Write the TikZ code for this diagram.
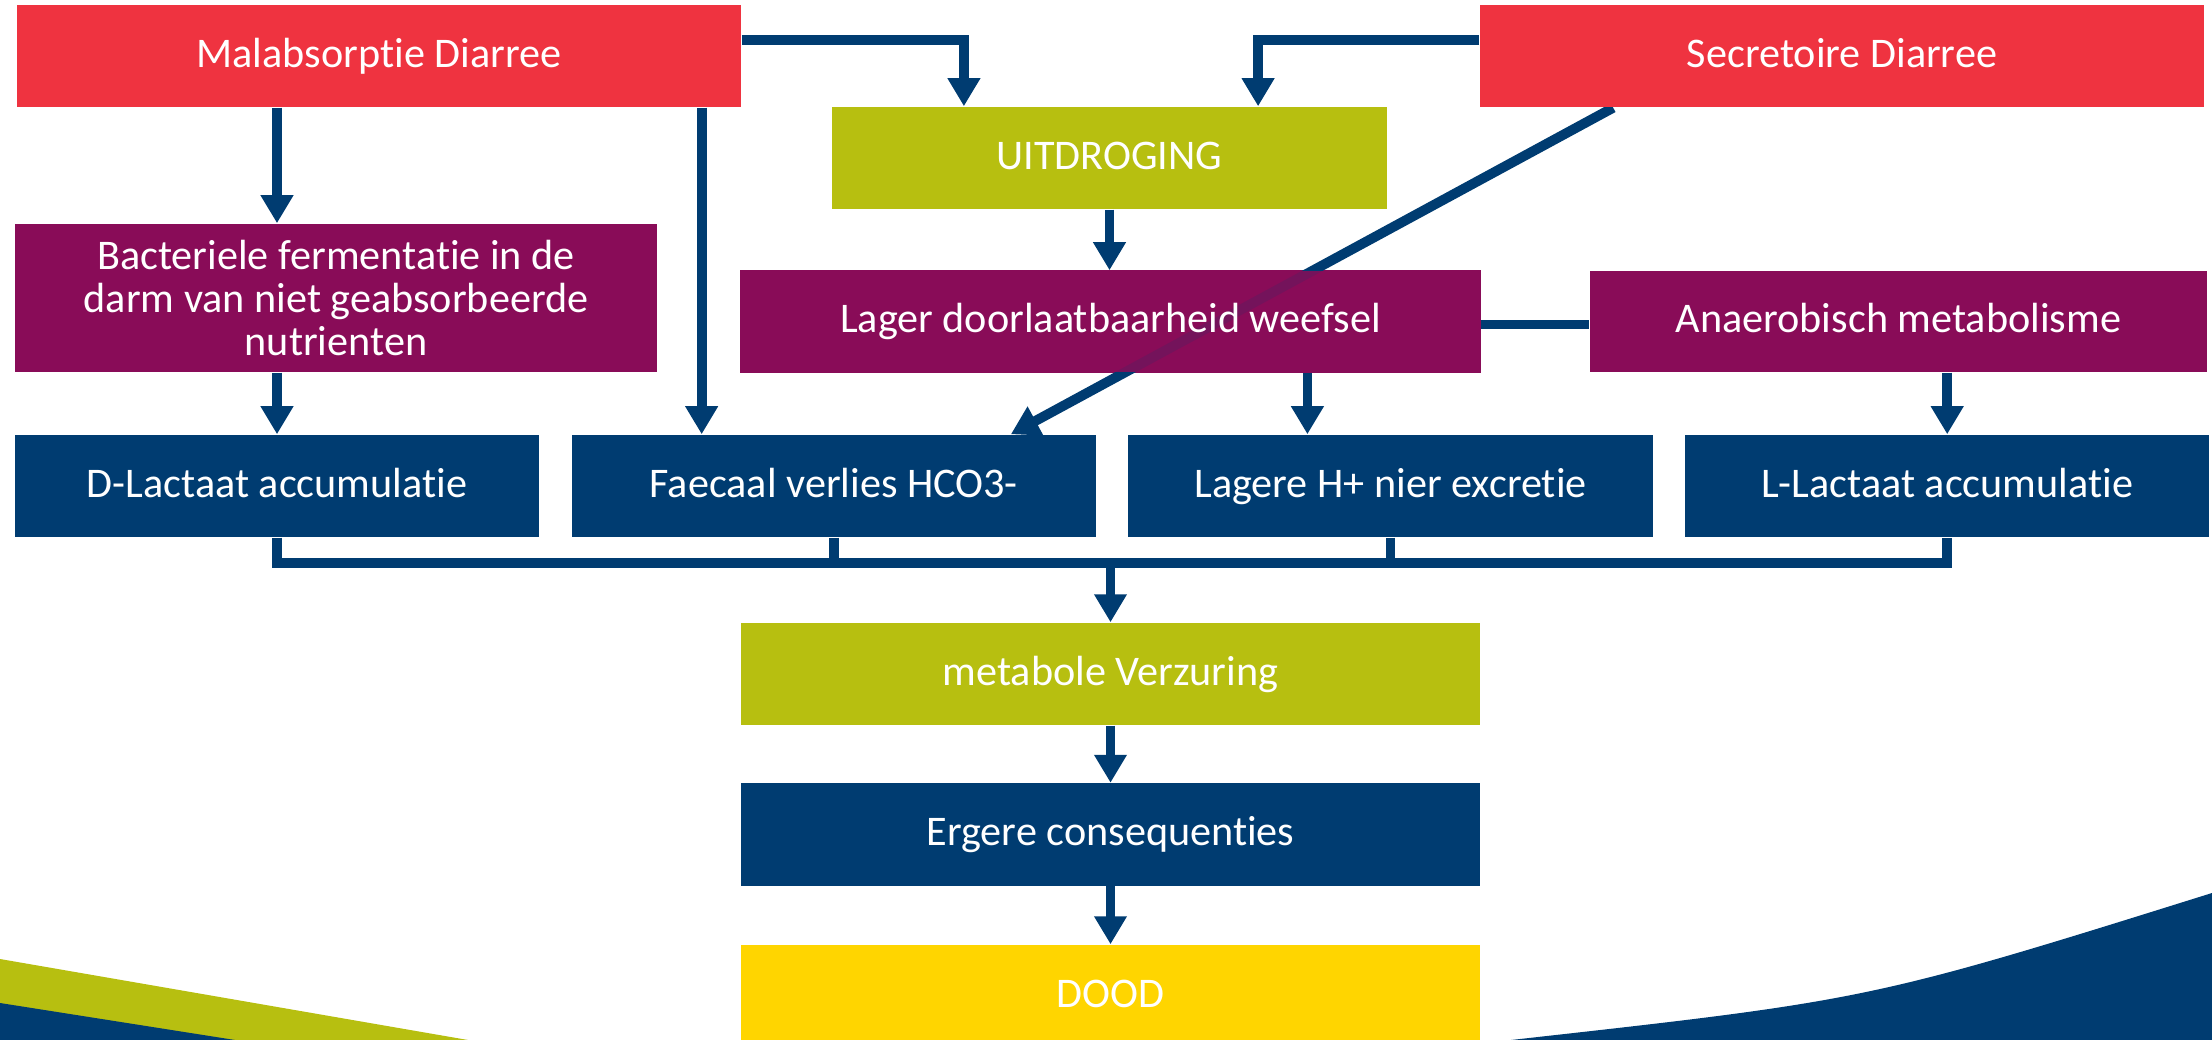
\documentclass[tikz,border=0pt]{standalone}
\usepackage{fontspec}
\setmainfont{Carlito}[Ligatures={NoCommon,NoContextual}]
\usepackage{xcolor}
\usetikzlibrary{shapes,arrows.meta,positioning,backgrounds}

\definecolor{rood}{HTML}{EF3340}
\definecolor{olijf}{HTML}{B7BF10}
\definecolor{paars}{HTML}{890C58}
\definecolor{marine}{HTML}{003C71}
\definecolor{geel}{HTML}{FFD500}

\begin{document}
\begin{tikzpicture}[x=0.01cm, y=-0.01cm, node distance=0.31cm, font=\fontsize{12}{12.3}\selectfont]
    % Stijlen
    \tikzstyle{blok}=[rectangle, inner sep=0pt, text=white, align=center, minimum height=1.02cm, text height=0.85em, text depth=0.2em]
    \tikzstyle{diarree}=[blok, fill=rood, minimum width=7.24cm]
    \tikzstyle{stap}=[blok, fill=olijf]
    \tikzstyle{oorzaak}=[blok, fill=paars, minimum height=1.01cm]
    \tikzstyle{gevolg}=[blok, fill=marine, minimum width=5.24cm]
    \tikzstyle{pijl}=[-{Triangle[width=3.1mm,length=2.8mm]}, line width=2.8pt, draw=marine]
    \tikzstyle{lijn}=[line width=2.8pt, draw=marine]

    \useasboundingbox (0,0) rectangle (2212,1040);

    % Knopen
    \node (mal) [diarree] at (379,56) {Malabsorptie Diarree};
    \node (sec) [diarree] at (1842,56) {Secretoire Diarree};
    \node (uit) [stap, minimum width=5.55cm] at (1109.5,158) {UITDROGING};
    \node (bac) [oorzaak, minimum width=6.42cm, minimum height=1.48cm, text height={}, text depth={}] at (336,298) {Bacteriele fermentatie in de\\darm van niet geabsorbeerde\\nutrienten};
    \node (lag) [oorzaak, minimum width=7.39cm, fill opacity=0.85, text opacity=1] at (1110.5,321.5) {Lager doorlaatbaarheid weefsel};
    \node (ana) [oorzaak, minimum width=6.17cm, right=1.08cm of lag] {Anaerobisch metabolisme};
    \node (dla) [gevolg] at (277,486) {D-Lactaat accumulatie};
    \node (fae) [gevolg, right=of dla] {Faecaal verlies HCO3-};
    \node (hpl) [gevolg, right=of fae] {Lagere H+ nier excretie};
    \node (lla) [gevolg, right=of hpl] {L-Lactaat accumulatie};
    \node (met) [stap, minimum width=7.39cm] at (1110.5,674) {metabole Verzuring};
    \node (erg) [gevolg, minimum width=7.39cm, below=0.57cm of met] {Ergere consequenties};
    \node (dood) [blok, fill=geel, minimum width=7.39cm, below=0.58cm of erg] {DOOD};

    % Verbindingen
    \draw [pijl] ([yshift=0.16cm]mal.east) -| ([xshift=-1.455cm]uit.north);
    \draw [pijl] ([yshift=0.16cm]sec.west) -| ([xshift=1.485cm]uit.north);
    \draw [pijl] (mal.south -| dla) -- (bac.north -| dla);
    \draw [pijl] (bac.south -| dla) -- (dla.north);
    \coordinate (faeIn) at ([xshift=-1.32cm]fae.north);
    \draw [pijl] (mal.south -| faeIn) -- (faeIn);
    \draw [pijl] (uit.south) -- (uit.south |- lag.north);
    \draw [lijn] ([yshift=-0.03cm]lag.east) -- ([yshift=-0.03cm]ana.west);
    \coordinate (hplIn) at ([xshift=-0.83cm]hpl.north);
    \draw [pijl] (lag.south -| hplIn) -- (hplIn);
    \draw [pijl] (ana.south -| lla) -- (lla.north);
    \coordinate (bus) at (1110.5,563);
    \draw [lijn] (dla.south) -- (dla.south |- bus) -- (lla.south |- bus) -- (lla.south);
    \draw [lijn] (fae.south) -- (fae.south |- bus);
    \draw [lijn] (hpl.south) -- (hpl.south |- bus);
    \draw [pijl] (bus) -- (met.north);
    \draw [pijl] (met) -- (erg);
    \draw [pijl] (erg) -- (dood);

    % Achtergrond
    \begin{scope}[on background layer]
        \fill [olijf] (0,959) -- (468,1040) -- (0,1040) -- cycle;
        \fill [marine] (0,1003) -- (235,1040) -- (0,1040) -- cycle;
        \fill [marine] (1511,1040) .. controls (1870,1000) .. (2212,893) -- (2212,1040) -- cycle;
        \fill [paars] (lag.south west) rectangle (lag.north east);
        \draw [pijl] ([xshift=1.34cm]sec.south west) -- ([xshift=1.77cm]fae.north);
    \end{scope}
\end{tikzpicture}
\end{document}
